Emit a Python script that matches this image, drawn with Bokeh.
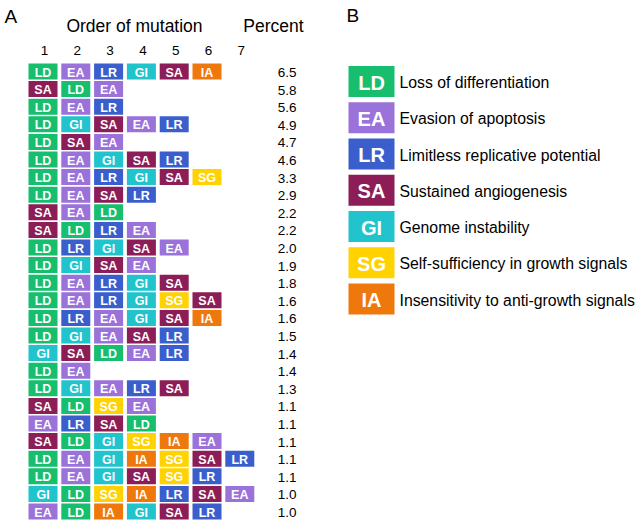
from bokeh.plotting import figure
from bokeh.models import ColumnDataSource, Range1d
from bokeh.embed import file_html
from bokeh.resources import INLINE
from bokeh.core.properties import value

# ---- data ----
codes = ["LD", "EA", "LR", "SA", "GI", "SG", "IA"]
names = ["Loss of differentiation", "Evasion of apoptosis", "Limitless replicative potential",
         "Sustained angiogenesis", "Genome instability", "Self-sufficiency in growth signals",
         "Insensitivity to anti-growth signals"]
colors = ["#17BE6E", "#9B72DA", "#3A5FCD", "#8C1D56", "#21C4CC", "#FFD200", "#EF780C"]

sequences = [
    ["LD", "EA", "LR", "GI", "SA", "IA"],
    ["SA", "LD", "EA"],
    ["LD", "EA", "LR"],
    ["LD", "GI", "SA", "EA", "LR"],
    ["LD", "SA", "EA"],
    ["LD", "EA", "GI", "SA", "LR"],
    ["LD", "EA", "LR", "GI", "SA", "SG"],
    ["LD", "EA", "SA", "LR"],
    ["SA", "EA", "LD"],
    ["SA", "LD", "LR", "EA"],
    ["LD", "LR", "GI", "SA", "EA"],
    ["LD", "GI", "SA", "EA"],
    ["LD", "EA", "LR", "GI", "SA"],
    ["LD", "EA", "LR", "GI", "SG", "SA"],
    ["LD", "LR", "EA", "GI", "SA", "IA"],
    ["LD", "GI", "EA", "SA", "LR"],
    ["GI", "SA", "LD", "EA", "LR"],
    ["LD", "EA"],
    ["LD", "GI", "EA", "LR", "SA"],
    ["SA", "LD", "SG", "EA"],
    ["EA", "LR", "SA", "LD"],
    ["SA", "LD", "GI", "SG", "IA", "EA"],
    ["LD", "EA", "GI", "IA", "SG", "SA", "LR"],
    ["LD", "EA", "GI", "SA", "SG", "LR"],
    ["GI", "LD", "SG", "IA", "LR", "SA", "EA"],
    ["EA", "LD", "IA", "GI", "SA", "LR"],
]
percent = [6.5, 5.8, 5.6, 4.9, 4.7, 4.6, 3.3, 2.9, 2.2, 2.2, 2.0, 1.9, 1.8, 1.6, 1.6,
           1.5, 1.4, 1.4, 1.3, 1.1, 1.1, 1.1, 1.1, 1.1, 1.0, 1.0]
orders = ["1", "2", "3", "4", "5", "6", "7"]

# ---- layout constants (pixels) ----
W, H = 640, 525
COL0, COLP = 42.5, 32.8
ROW0, ROWP = 71.0, 17.6
BOXW, BOXH = 29, 16
PCT_X = 296
LEG_X, LEG_Y0, LEG_P = 371, 81, 36.25
FONT = "Liberation Sans"

cmap = dict(zip(codes, colors))

p = figure(width=W, height=H, x_range=Range1d(0, W), y_range=Range1d(H, 0),
           output_backend="svg", toolbar_location=None, min_border=0,
           x_axis_location=None, y_axis_location=None)
p.grid.visible = False
p.outline_line_color = None
p.background_fill_color = "white"

# cells
xs, ys, cs, ts = [], [], [], []
for r, seq in enumerate(sequences):
    for c, code in enumerate(seq):
        xs.append(COL0 + c * COLP)
        ys.append(ROW0 + r * ROWP)
        cs.append(cmap[code])
        ts.append(code)
src = ColumnDataSource(dict(x=xs, y=ys, c=cs, t=ts))
p.rect("x", "y", width=BOXW, height=BOXH, fill_color="c", line_color=None, source=src)
p.text("x", "y", text="t", source=src, text_color="white", text_font=value(FONT),
       text_font_style="bold", text_font_size="12.5px", text_align="center",
       text_baseline="middle", y_offset=1)

# percents
psrc = ColumnDataSource(dict(x=[PCT_X] * len(percent),
                             y=[ROW0 + r * ROWP for r in range(len(percent))],
                             t=["%.1f" % v for v in percent]))
p.text("x", "y", text="t", source=psrc, text_color="black", text_font=value(FONT),
       text_font_size="13.5px", text_align="right", text_baseline="middle", y_offset=1)

# column numbers
osrc = ColumnDataSource(dict(x=[COL0 + 1.5 + i * COLP for i in range(len(orders))],
                             y=[50] * len(orders), t=orders))
p.text("x", "y", text="t", source=osrc, text_color="black", text_font=value(FONT),
       text_font_size="13.5px", text_align="center", text_baseline="middle")

# headers
p.text(x=[134, 273], y=[25, 25], text=["Order of mutation", "Percent"], text_color="black",
       text_font=value(FONT), text_font_size="17.5px", text_align="center", text_baseline="middle")
p.text(x=[4, 346], y=[16, 15], text=["A", "B"], text_color="black",
       text_font=value(FONT), text_font_size="19px", text_align="left", text_baseline="middle")

# legend
lsrc = ColumnDataSource(dict(x=[LEG_X] * len(codes),
                             y=[LEG_Y0 + i * LEG_P for i in range(len(codes))],
                             c=colors, t=codes, n=names,
                             xl=[LEG_X + 28] * len(codes)))
p.rect("x", "y", width=46, height=31, fill_color="c", line_color=None, source=lsrc)
p.text("x", "y", text="t", source=lsrc, text_color="white", text_font=value(FONT),
       text_font_style="bold", text_font_size="20px", text_align="center",
       text_baseline="middle", y_offset=1)
p.text("xl", "y", text="n", source=lsrc, text_color="black", text_font=value(FONT),
       text_font_size="15.8px", text_align="left", text_baseline="middle", y_offset=1)

open("out.html", "w").write(file_html(p, INLINE))
